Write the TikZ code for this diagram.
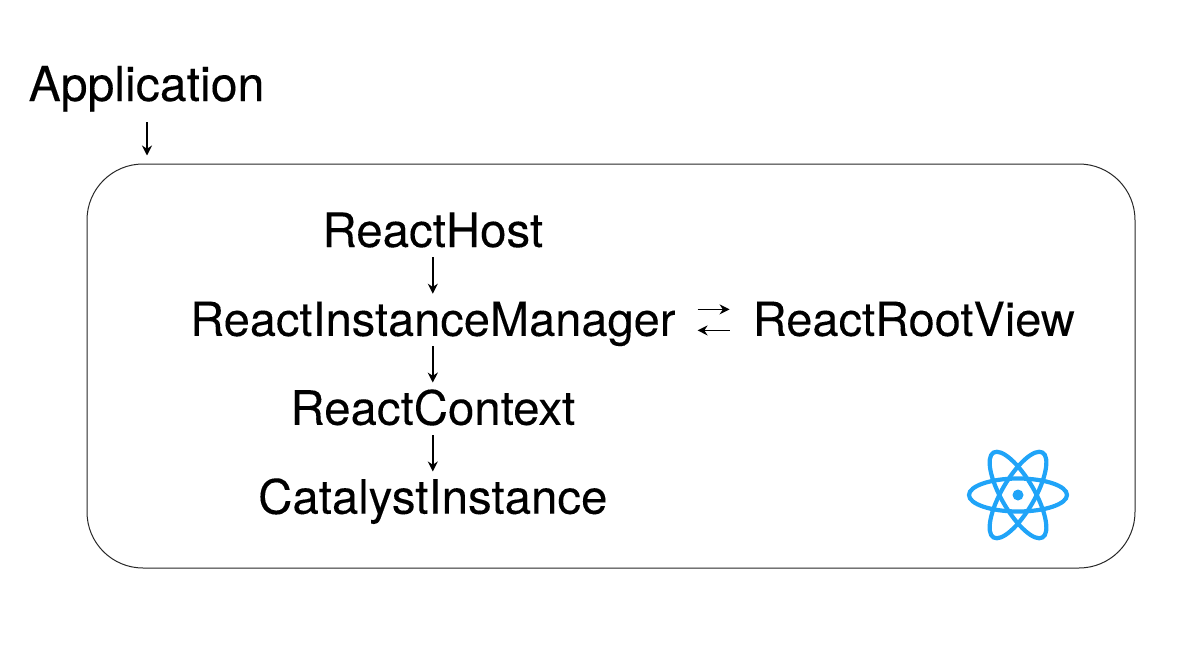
\documentclass[tikz,border=0pt]{standalone}
\usepackage{fontspec}
\setmainfont{TeX Gyre Heros}[FakeBold=0.12]
\usetikzlibrary{arrows.meta,positioning}
\definecolor{reactblue}{HTML}{20A4F8}
\tikzset{
  label text/.style={inner sep=0pt,text height=42pt,text depth=10pt,font=\fontsize{47.4}{50}\selectfont},
  flow/.style={-{Stealth[length=10pt,width=10pt]},line width=1.6pt},
  atom/.style={draw=reactblue,line width=4.2pt}
}
\begin{document}
\begin{tikzpicture}[x=1pt,y=-1pt,node distance=36.5pt]
    \useasboundingbox (0,0) rectangle (1200,659);
    % Outer frame
    \node[draw=black!85,line width=1pt,rounded corners=56pt,minimum width=1048pt,minimum height=404pt,inner sep=0pt] (frame) at (611,366) {};
    \node[label text,font=\fontsize{48.2}{50}\selectfont] (app) at (146.5,85) {Application};
    \coordinate (appin) at (147,155.5);
    \draw[flow] (147,122) -- (appin);
    % Main column
    \node[label text] (host) at (432.8,231) {ReactHost};
    \node[label text,font=\fontsize{47}{50}\selectfont,below=of host] (manager) {ReactInstanceManager};
    \node[label text,below=of manager] (context) {ReactContext};
    \node[label text,below=of context] (catalyst) {CatalystInstance};
    \node[label text,font=\fontsize{47}{50}\selectfont,right=77pt of manager] (rootview) {ReactRootView};
    \draw[flow] (host) -- (manager);
    \draw[flow] (manager) -- (context);
    \draw[flow] (context) -- (catalyst);
    \draw[flow,shorten <=22pt,shorten >=23pt] ([yshift=10.5pt]manager.east) -- ([yshift=10.5pt]rootview.west);
    \draw[flow,shorten <=23pt,shorten >=22pt] ([yshift=-10.5pt]rootview.west) -- ([yshift=-10.5pt]manager.east);
    % Logo
    \node[circle,fill=reactblue,minimum size=11pt,inner sep=0pt] (nucleus) at (1018,495) {};
    \draw[atom] (nucleus.center) ellipse [x radius=49pt,y radius=16.5pt];
    \draw[atom,rotate around={60:(nucleus.center)}] (nucleus.center) ellipse [x radius=49pt,y radius=16.5pt];
    \draw[atom,rotate around={-60:(nucleus.center)}] (nucleus.center) ellipse [x radius=49pt,y radius=16.5pt];
\end{tikzpicture}
\end{document}
